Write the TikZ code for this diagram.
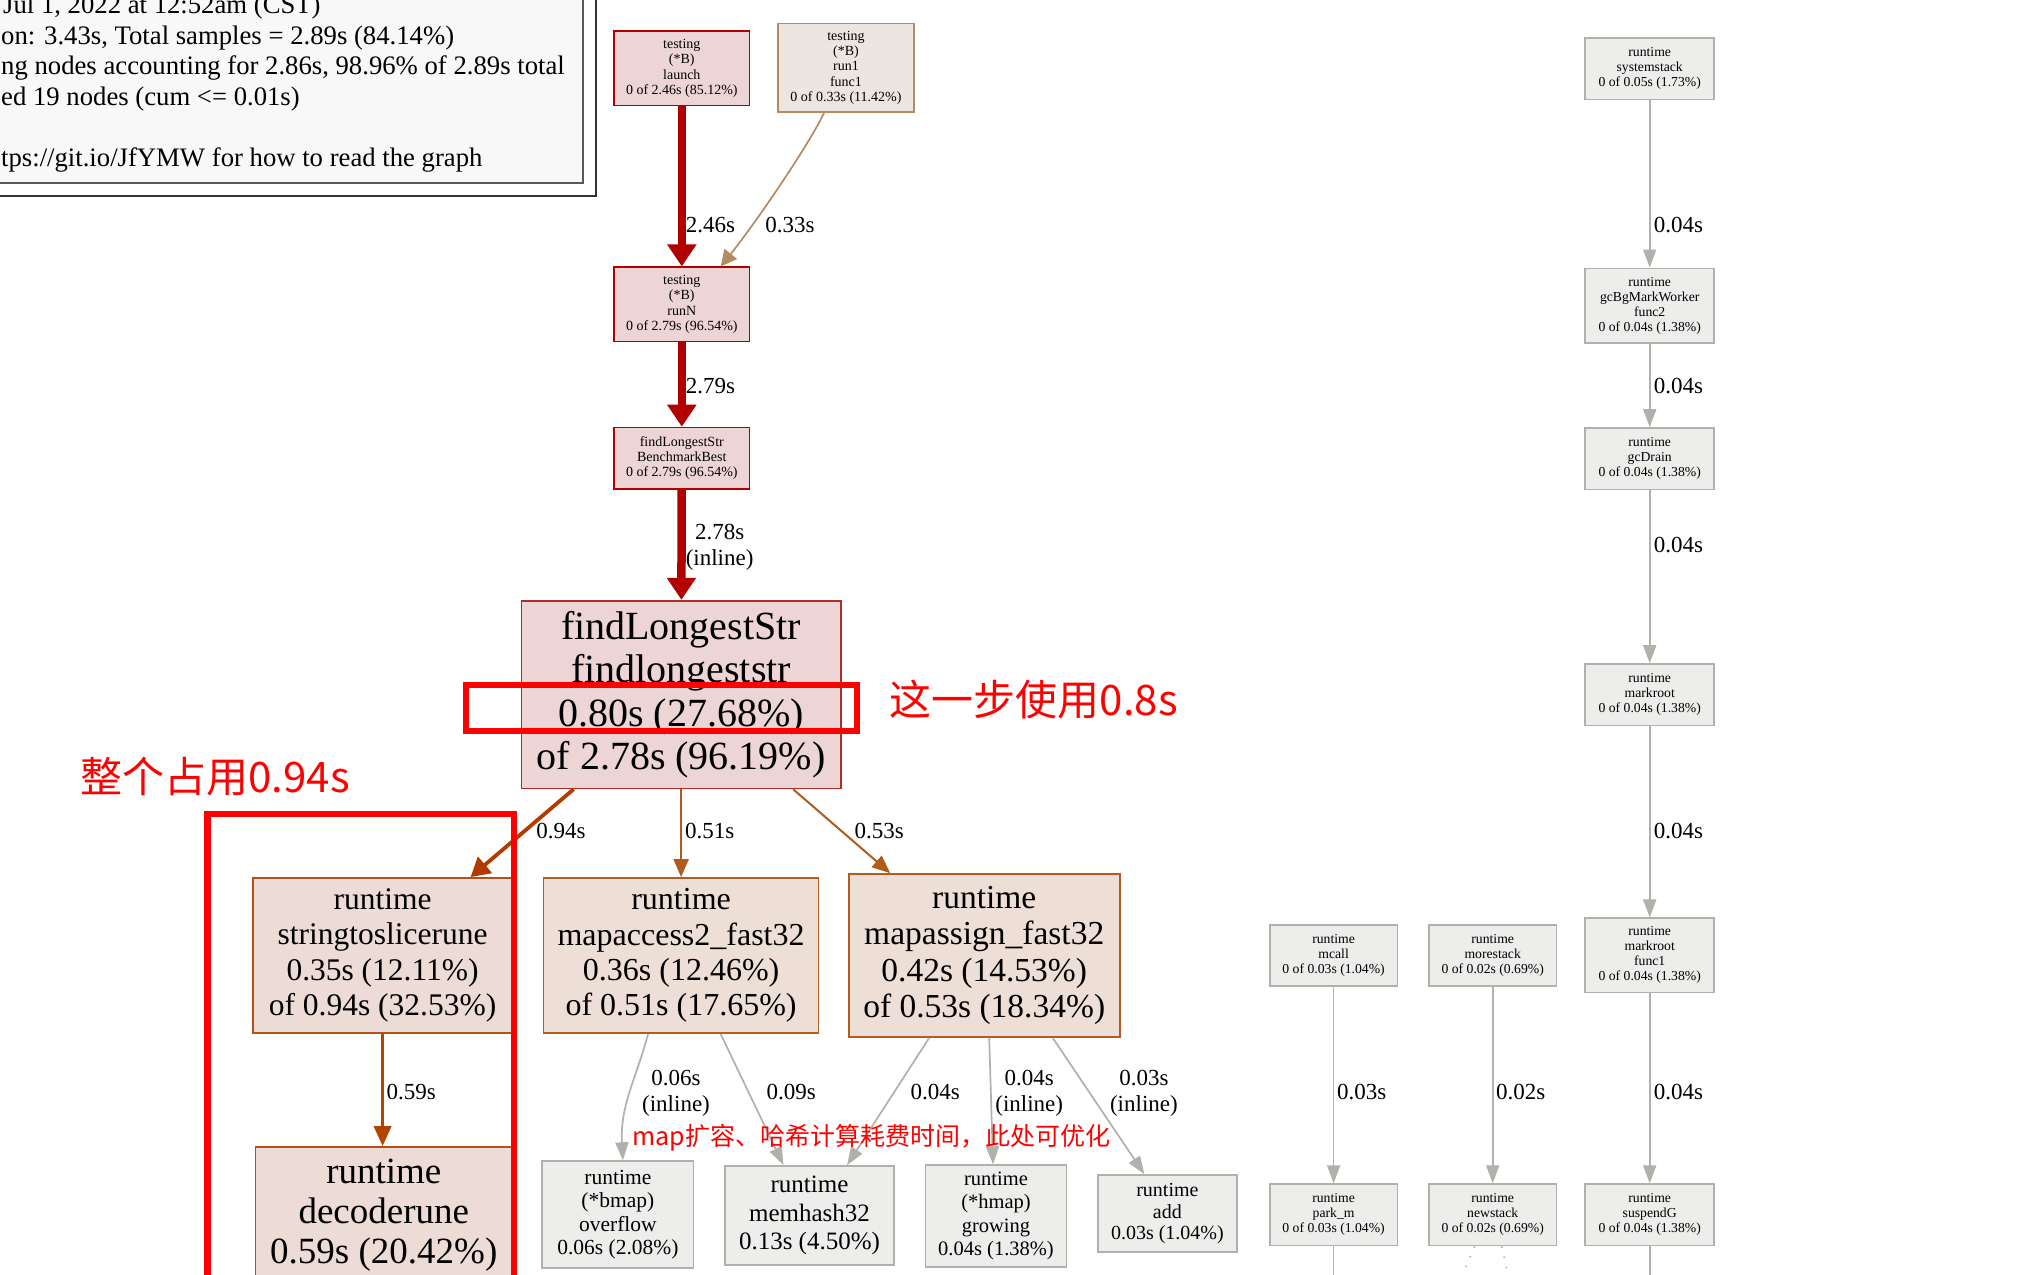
\documentclass[tikz,border=0pt]{standalone}
\usepackage{fontspec}
\setmainfont{Liberation Serif}
\newfontfamily\cjk{Noto Sans CJK SC}
\usetikzlibrary{arrows.meta,calc}
\newcommand{\myfs}[2]{\fontsize{#1}{#2}\selectfont}
\definecolor{redline}{HTML}{B20000}
\definecolor{redfill}{HTML}{EDD5D5}
\definecolor{mainline}{HTML}{B22B2B}
\definecolor{orline}{HTML}{B2511A}
\definecolor{orfill}{HTML}{EDDBD5}
\definecolor{ortwoline}{HTML}{B25C24}
\definecolor{ortwofill}{HTML}{EDDED6}
\definecolor{tanline}{HTML}{B28B62}
\definecolor{tanfill}{HTML}{EDE6E0}
\definecolor{grayline}{HTML}{B2B0AA}
\definecolor{grayfill}{HTML}{EDEDEC}
\definecolor{annotred}{HTML}{FF0000}
\definecolor{eninefour}{HTML}{B23C00}
\definecolor{efivenine}{HTML}{B24400}
\definecolor{efiveone}{HTML}{B25A1B}
\definecolor{legendfill}{HTML}{F8F8F8}
\begin{document}
\begin{tikzpicture}[x=1pt,y=-1pt,
  box/.style={draw, rectangle, inner sep=0pt, align=center, line width=1.7pt, text=black},
  redbox/.style={box, draw=redline, fill=redfill},
  mainbox/.style={box, draw=mainline, fill=redfill},
  tanbox/.style={box, draw=tanline, fill=tanfill},
  orbox/.style={box, draw=orline, fill=orfill},
  ortwobox/.style={box, draw=ortwoline, fill=ortwofill},
  gybox/.style={box, draw=grayline, fill=grayfill},
  smallfont/.style={font=\myfs{14}{15.2}},
  rightfont/.style={font=\myfs{13.7}{15}},
  elabel/.style={inner sep=0pt, align=center, font=\myfs{23}{26}},
  legline/.style={inner sep=0pt, anchor=base west, font=\myfs{26.7}{30.6}},
  thickred/.style={draw=redline, line width=8.5pt, -{Triangle[length=22pt,width=28pt]}},
  tanedge/.style={draw=tanline, line width=1.7pt, -{Triangle[length=16pt,width=16pt]}},
  nfedge/.style={draw=eninefour, line width=3.8pt, -{Triangle[length=19pt,width=21pt]}},
  fnedge/.style={draw=efivenine, line width=3.5pt, -{Triangle[length=20pt,width=17pt]}},
  foedge/.style={draw=efiveone, line width=2pt, -{Triangle[length=18pt,width=15pt]}},
  gyedge/.style={draw=grayline, line width=1.7pt, -{Triangle[length=18pt,width=13pt]}},
  gyline/.style={draw=grayline, line width=1.7pt},
  dotedge/.style={draw=grayline, line width=1.6pt, dash pattern=on 1.5pt off 9pt},
  annot/.style={draw=annotred, line width=6.5pt},
  cjkbig/.style={inner sep=0pt, text=annotred, font=\cjk\myfs{42}{50}},
  cjksmall/.style={inner sep=0pt, text=annotred, font=\cjk\myfs{25}{30}}
]
\useasboundingbox (0,0) rectangle (2044,1274);
\clip (0,0) rectangle (2044,1274);
\fill[white] (0,0) rectangle (2044,1274);

% legend
\draw[line width=2.2pt, draw=black!80] (-20,-20) rectangle (596,196);
\draw[line width=1.3pt, draw=black!65, fill=legendfill] (-10,-10) rectangle (583,183);
\node[legline] (legA) at (3,13.5) {Jul 1, 2022 at 12:52am (CST)};
\node[legline] (legB) at (1,44.1) {on: 3.43s, Total samples = 2.89s (84.14\%)};
\node[legline] (legC) at (1,74.7) {ng nodes accounting for 2.86s, 98.96\% of 2.89s total};
\node[legline] (legD) at (1,105.3) {ed 19 nodes (cum <= 0.01s)};
\node[legline] (legE) at (1,166.5) {tps://git.io/JfYMW for how to read the graph};

% nodes - main column
\node[redbox, smallfont, minimum width=135.6, minimum height=74.3] (launch) at (681.8,68.4)
  {testing\\(*B)\\launch\\0 of 2.46s (85.12\%)};
\node[tanbox, smallfont, minimum width=135.6, minimum height=88.6] (runone) at (846,67.8)
  {testing\\(*B)\\run1\\func1\\0 of 0.33s (11.42\%)};
\node[redbox, smallfont, minimum width=135.6, minimum height=74.3] (runN) at (681.8,304.4)
  {testing\\(*B)\\runN\\0 of 2.79s (96.54\%)};
\node[redbox, smallfont, minimum width=135.6, minimum height=61.3] (bench) at (681.8,458.2)
  {findLongestStr\\BenchmarkBest\\0 of 2.79s (96.54\%)};
\node[mainbox, font=\myfs{40}{43.5}, minimum width=319.4, minimum height=187.7] (mainfn) at (681.1,694.5)
  {findLongestStr\\findlongeststr\\0.80s (27.68\%)\\of 2.78s (96.19\%)};
\node[orbox, font=\myfs{31.5}{35.2}, minimum width=259.4, minimum height=155.1] (strsr) at (382.6,955.5)
  {runtime\\stringtoslicerune\\0.35s (12.11\%)\\of 0.94s (32.53\%)};
\node[orbox, font=\myfs{37}{40}, minimum width=256.5, minimum height=136] (decode) at (383.8,1215)
  {runtime\\decoderune\\0.59s (20.42\%)};
\node[ortwobox, font=\myfs{32}{35.2}, minimum width=275, minimum height=155.1] (mapacc) at (681.1,955.5)
  {runtime\\mapaccess2\_fast32\\0.36s (12.46\%)\\of 0.51s (17.65\%)};
\node[ortwobox, font=\myfs{33.5}{36.5}, minimum width=271.1, minimum height=163] (mapasg) at (984.2,955.5)
  {runtime\\mapassign\_fast32\\0.42s (14.53\%)\\of 0.53s (18.34\%)};
\node[gybox, font=\myfs{21.5}{23.5}, minimum width=151.2, minimum height=106.9] (bmap) at (617.9,1214.6)
  {runtime\\(*bmap)\\overflow\\0.06s (2.08\%)};
\node[gybox, font=\myfs{25}{28.7}, minimum width=169.5, minimum height=99] (memhash) at (809.5,1215.5)
  {runtime\\memhash32\\0.13s (4.50\%)};
\node[gybox, font=\myfs{20.5}{23.5}, minimum width=140.8, minimum height=101.7] (hmap) at (996,1216)
  {runtime\\(*hmap)\\growing\\0.04s (1.38\%)};
\node[gybox, font=\myfs{20}{21.5}, minimum width=139.5, minimum height=76.9] (addn) at (1167.4,1213.5)
  {runtime\\add\\0.03s (1.04\%)};

% right nodes
\node[gybox, rightfont, minimum width=129, minimum height=61.3] (sysstk) at (1649.7,68.9)
  {runtime\\systemstack\\0 of 0.05s (1.73\%)};
\node[gybox, rightfont, minimum width=129, minimum height=74.3] (gcbg) at (1649.7,305.5)
  {runtime\\gcBgMarkWorker\\func2\\0 of 0.04s (1.38\%)};
\node[gybox, rightfont, minimum width=129, minimum height=61.3] (gcdrain) at (1649.7,458.7)
  {runtime\\gcDrain\\0 of 0.04s (1.38\%)};
\node[gybox, rightfont, minimum width=129, minimum height=61.3] (markroot) at (1649.7,694.7)
  {runtime\\markroot\\0 of 0.04s (1.38\%)};
\node[gybox, rightfont, minimum width=129, minimum height=74.3] (markrootf) at (1649.7,955.4)
  {runtime\\markroot\\func1\\0 of 0.04s (1.38\%)};
\node[gybox, rightfont, minimum width=129, minimum height=61.3] (suspend) at (1649.7,1214.8)
  {runtime\\suspendG\\0 of 0.04s (1.38\%)};
\node[gybox, rightfont, minimum width=127.7, minimum height=61.3] (mcall) at (1333.6,955.4)
  {runtime\\mcall\\0 of 0.03s (1.04\%)};
\node[gybox, rightfont, minimum width=127.7, minimum height=61.3] (parkm) at (1333.6,1214.8)
  {runtime\\park\_m\\0 of 0.03s (1.04\%)};
\node[gybox, rightfont, minimum width=127.7, minimum height=61.3] (morestack) at (1492.7,955.4)
  {runtime\\morestack\\0 of 0.02s (0.69\%)};
\node[gybox, rightfont, minimum width=127.7, minimum height=61.3] (newstack) at (1492.7,1214.8)
  {runtime\\newstack\\0 of 0.02s (0.69\%)};

% edges
\draw[thickred] (launch) -- (runN);
\draw[thickred] (runN) -- (bench);
\draw[thickred] (bench) -- (mainfn);
\draw[tanedge] ($(runone.south)+(-22,0)$) .. controls ($(runone.south)+(-36,30)$) and ($(runN.north)+(75,-45)$) .. ($(runN.north)+(39,0)$);
\draw[nfedge] ($(mainfn.south)+(-107.5,0)$) -- ($(strsr.north)+(88,0)$);
\draw[foedge] (mainfn.south) -- (mainfn.south |- mapacc.north);
\draw[foedge] ($(mainfn.south)+(112,0)$) -- ($(mapasg.north)+(-94,0)$);
\draw[fnedge] (strsr.south) -- (strsr.south |- decode.north);
\draw[gyedge] ($(mapacc.south)+(-33,0)$) .. controls ($(mapacc.south)+(-45,45)$) and ($(bmap.north)+(2,-55)$) .. ($(bmap.north)+(5,0)$);
\draw[gyedge] ($(mapacc.south)+(39.5,0)$) -- ($(memhash.north)+(-26,0)$);
\draw[gyedge] ($(mapasg.south)+(-55,0)$) -- ($(memhash.north)+(37.5,0)$);
\draw[gyedge] ($(mapasg.south)+(5,0)$) -- ($(hmap.north)+(-3,0)$);
\draw[gyedge] ($(mapasg.south)+(68.5,0)$) -- ($(addn.north)+(-23,0)$);
\draw[gyedge] (sysstk) -- (gcbg);
\draw[gyedge] (gcbg) -- (gcdrain);
\draw[gyedge] (gcdrain) -- (markroot);
\draw[gyedge] (markroot) -- (markrootf);
\draw[gyedge] (markrootf) -- (suspend);
\draw[gyedge] (mcall) -- (parkm);
\draw[gyedge] (morestack) -- (newstack);
\coordinate (pkend) at (1333.6,1290);
\coordinate (sgend) at (1649.7,1290);
\coordinate (nsA) at (1455,1292);
\coordinate (nsB) at (1512,1292);
\draw[gyline] (parkm) -- (pkend);
\draw[gyline] (suspend) -- (sgend);
\draw[dotedge] ($(newstack.south)+(-18,0)$) -- (nsA);
\draw[dotedge] ($(newstack.south)+(9,0)$) -- (nsB);

% edge labels
\node[elabel] (lA) at (710.5,225) {2.46s};
\node[elabel] (lB) at (790,225) {0.33s};
\node[elabel] (lC) at (710.5,385.6) {2.79s};
\node[elabel] (lD) at (719.6,547.6) {2.78s\\(inline)};
\node[elabel] (lE) at (561,831.4) {0.94s};
\node[elabel] (lF) at (709.8,831.4) {0.51s};
\node[elabel] (lG) at (879.3,831.4) {0.53s};
\node[elabel] (lH) at (411.3,1091.5) {0.59s};
\node[elabel] (lI) at (676,1093.6) {0.06s\\(inline)};
\node[elabel] (lJ) at (791.3,1091.5) {0.09s};
\node[elabel] (lK) at (935.3,1091.5) {0.04s};
\node[elabel] (lL) at (1029.2,1093.6) {0.04s\\(inline)};
\node[elabel] (lM) at (1143.9,1093.6) {0.03s\\(inline)};
\node[elabel] (lN) at (1361.6,1091.5) {0.03s};
\node[elabel] (lO) at (1520.7,1091.5) {0.02s};
\node[elabel] (lP) at (1678.4,225) {0.04s};
\node[elabel] (lQ) at (1678.4,385.6) {0.04s};
\node[elabel] (lR) at (1678.4,544.6) {0.04s};
\node[elabel] (lS) at (1678.4,831.4) {0.04s};
\node[elabel] (lT) at (1678.4,1091.5) {0.04s};

% annotations
\draw[annot] (466,685) rectangle (857,731);
\draw[annot] (207.5,814) rectangle (514,1300);
\node[cjkbig] (noteA) at (1033.8,700) {这一步使用0.8s};
\node[cjkbig] (noteB) at (215.1,777) {整个占用0.94s};
\node[cjksmall] (noteC) at (871.5,1138) {map扩容、哈希计算耗费时间，此处可优化};
\end{tikzpicture}
\end{document}
